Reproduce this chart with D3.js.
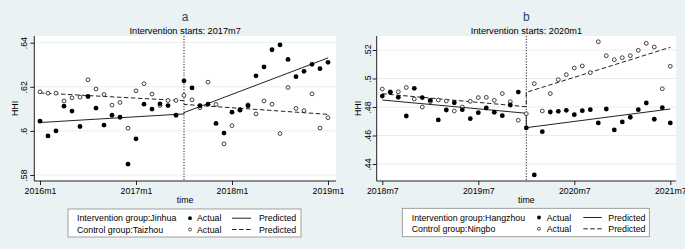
<!DOCTYPE html>
<html>
<head>
<meta charset="utf-8">
<script src="https://cdn.jsdelivr.net/npm/d3@7"></script>
<style>
  html, body { margin: 0; padding: 0; background: #eaf2f3; }
  svg { display: block; }
  text { font-family: "Liberation Sans", Arial, Helvetica, sans-serif; fill: #000; }
</style>
</head>
<body>
<svg id="chart" width="685" height="249"></svg>
<script>
// ---------------- Data ----------------
// Panel a: monthly, 2016m1 .. 2019m1 (index 0..36)
const ticksA = [0, 12, 24, 36];
const tickLabelsA = ["2016m1", "2017m1", "2018m1", "2019m1"];
const yTicksA = [0.58, 0.60, 0.62, 0.64];
const yTickLabelsA = [".58", ".6", ".62", ".64"];
const interventionA = 18; // 2017m7

const jinhuaActual = [0.6044,0.5977,0.6000,0.6112,0.6090,0.6020,0.6156,0.6103,0.6026,0.6071,0.6062,0.5849,0.5964,0.6121,0.6099,0.6123,0.6115,0.6071,0.6227,0.6195,0.6114,0.6121,0.6034,0.5990,0.6085,0.6094,0.6114,0.6250,0.6290,0.6368,0.6390,0.6324,0.6246,0.6270,0.6302,0.6282,0.6311];
const taizhouActual = [0.6177,0.6171,0.6171,0.6136,0.6150,0.6153,0.6232,0.6190,0.6165,0.6117,0.6129,0.6012,0.6182,0.6214,0.6167,0.6115,0.6138,0.6138,0.6161,0.6141,0.6105,0.6221,0.6120,0.5941,0.6024,0.6098,0.6118,0.6077,0.6136,0.6121,0.5988,0.6197,0.6102,0.6092,0.6168,0.6013,0.6060];
const predIdxA = [0, 18, 18, 36];
const jinhuaPred = [0.6038, 0.6077, 0.6083, 0.6331];
const taizhouPred = [0.6172, 0.6137, 0.6120, 0.6075];

// Panel b: monthly, 2018m7 .. 2021m7 (index 0..36)
const ticksB = [0, 12, 24, 36];
const tickLabelsB = ["2018m7", "2019m7", "2020m7", "2021m7"];
const yTicksB = [0.44, 0.46, 0.48, 0.50, 0.52];
const yTickLabelsB = [".44", ".46", ".48", ".5", ".52"];
const interventionB = 18; // 2020m1

const hangzhouActual = [0.4877,0.4903,0.4868,0.4737,0.4931,0.4866,0.4847,0.4709,0.4779,0.4830,0.4781,0.4718,0.4760,0.4793,0.4763,0.4739,0.4814,0.4905,0.4653,0.4323,0.4627,0.4765,0.4770,0.4777,0.4746,0.4774,0.4781,0.4688,0.4786,0.4639,0.4695,0.4728,0.4781,0.4828,0.4714,0.4795,0.4688];
const ningboActual = [0.4926,0.4907,0.4907,0.4937,0.4856,0.4800,0.4837,0.4849,0.4842,0.4772,0.4800,0.4840,0.4866,0.4868,0.4847,0.4894,0.4837,0.4707,0.4753,0.4964,0.4772,0.4894,0.4992,0.5027,0.5074,0.5088,0.5041,0.5258,0.5160,0.5132,0.5146,0.5160,0.5198,0.5247,0.5221,0.4928,0.5086];
const predIdxB = [0, 18, 18, 36];
const hangzhouPred = [0.4849, 0.4756, 0.4655, 0.4786];
const ningboPred = [0.4893, 0.4802, 0.4903, 0.5219];

// ---------------- Drawing ----------------
const svg = d3.select("#chart");
svg.append("rect").attr("width", 685).attr("height", 249).attr("fill", "#eaf2f3");

function panel(cfg) {
  const g = svg.append("g");
  const x = d3.scaleLinear().domain([0, 36]).range(cfg.xr);
  const y = d3.scaleLinear().domain(cfg.yd).range(cfg.yr);
  const [pl, pr] = cfg.plotX, [pt, pb] = cfg.plotY;

  // plot region
  g.append("rect").attr("x", pl).attr("y", pt).attr("width", pr - pl).attr("height", pb - pt).attr("fill", "#fff");

  // gridlines
  g.selectAll(".grid").data(cfg.yTicks).join("line")
    .attr("x1", pl).attr("x2", pr)
    .attr("y1", d => y(d)).attr("y2", d => y(d))
    .attr("stroke", "#e6eff0").attr("stroke-width", 1);

  // axes via d3 axis generators
  const yAxis = d3.axisLeft(y).tickValues(cfg.yTicks).tickFormat((d, i) => cfg.yLabels[i]).tickSize(4).tickSizeOuter(0);
  const ya = g.append("g").attr("transform", `translate(${pl},0)`).call(yAxis);
  ya.select(".domain").remove();
  ya.selectAll(".tick line").attr("stroke", "#222");
  ya.selectAll(".tick text")
    .attr("x", 0).attr("y", 0).attr("dy", null)
    .attr("transform", function(d) { return `translate(${cfg.yLabX - pl},0) rotate(-90)`; })
    .attr("text-anchor", "middle")
    .style("font-size", "8.8px").style("font-family", '"Liberation Sans", Arial, sans-serif').attr("fill", "#000");
  g.append("line").attr("x1", pl).attr("x2", pl).attr("y1", pt).attr("y2", pb).attr("stroke", "#222").attr("stroke-width", 1);

  const xAxis = d3.axisBottom(x).tickValues(cfg.xTicks).tickFormat((d, i) => cfg.xLabels[i]).tickSize(4).tickSizeOuter(0);
  const xa = g.append("g").attr("transform", `translate(0,${pb})`).call(xAxis);
  xa.select(".domain").remove();
  xa.selectAll(".tick line").attr("stroke", "#222");
  xa.selectAll(".tick text").attr("y", 13).attr("dy", null)
    .style("font-size", "8.8px").style("font-family", '"Liberation Sans", Arial, sans-serif').attr("fill", "#000");
  g.append("line").attr("x1", pl).attr("x2", pr).attr("y1", pb).attr("y2", pb).attr("stroke", "#222").attr("stroke-width", 1);

  // axis titles
  g.append("text").attr("transform", `translate(${cfg.hhiX},${(pt + pb) / 2}) rotate(-90)`)
    .attr("text-anchor", "middle").style("font-size", "8.8px").text("HHI");
  g.append("text").attr("x", (pl + pr) / 2).attr("y", 203).attr("text-anchor", "middle")
    .style("font-size", "8.8px").text("time");

  // titles
  g.append("text").attr("x", (pl + pr) / 2).attr("y", 20.5).attr("text-anchor", "middle")
    .style("font-size", "12px").style("fill", "#1a476f").text(cfg.title);
  g.append("text").attr("x", (pl + pr) / 2).attr("y", 33.5).attr("text-anchor", "middle")
    .style("font-size", "9.2px").text(cfg.subtitle);

  // intervention line
  g.append("line").attr("x1", x(cfg.interv)).attr("x2", x(cfg.interv)).attr("y1", pt).attr("y2", pb)
    .attr("stroke", "#222").attr("stroke-width", 1).attr("stroke-dasharray", "1.2,1.6");

  // predicted lines
  const line = d3.line().x(d => x(d[0])).y(d => y(d[1]));
  const predT = cfg.predIdx.map((t, i) => [t, cfg.predT[i]]);
  const predC = cfg.predIdx.map((t, i) => [t, cfg.predC[i]]);
  g.append("path").attr("d", line(predT)).attr("fill", "none").attr("stroke", "#222").attr("stroke-width", 1);
  g.append("path").attr("d", line(predC)).attr("fill", "none").attr("stroke", "#222").attr("stroke-width", 1)
    .attr("stroke-dasharray", "4.5,2.5");

  // actual points
  g.selectAll(".ctl").data(cfg.actC).join("circle")
    .attr("cx", (d, i) => x(i)).attr("cy", d => y(d)).attr("r", 1.9)
    .attr("fill", "#fff").attr("stroke", "#111").attr("stroke-width", 0.8);
  g.selectAll(".trt").data(cfg.actT).join("circle")
    .attr("cx", (d, i) => x(i)).attr("cy", d => y(d)).attr("r", 2.4)
    .attr("fill", "#000");

  // legend
  const L = cfg.legend;
  g.append("rect").attr("x", L.x0).attr("y", L.y0).attr("width", L.x1 - L.x0).attr("height", L.y1 - L.y0)
    .attr("fill", "#fff").attr("stroke", "#8a8a8a").attr("stroke-width", 0.8);
  const rows = [
    { label: cfg.trtLabel, filled: true, dash: null, cy: L.y0 + 9.2 },
    { label: cfg.ctlLabel, filled: false, dash: "4.5,2.5", cy: L.y0 + 20.5 }
  ];
  rows.forEach(r => {
    g.append("text").attr("x", L.tx).attr("y", r.cy + 3.2).style("font-size", "8.8px").text(r.label);
    if (r.filled) {
      g.append("circle").attr("cx", L.dot).attr("cy", r.cy).attr("r", 1.9).attr("fill", "#000");
    } else {
      g.append("circle").attr("cx", L.dot).attr("cy", r.cy).attr("r", 1.5).attr("fill", "#fff").attr("stroke", "#111").attr("stroke-width", 0.7);
    }
    g.append("text").attr("x", L.act).attr("y", r.cy + 3.2).style("font-size", "8.8px").text("Actual");
    const ln = g.append("line").attr("x1", L.l0).attr("x2", L.l1).attr("y1", r.cy).attr("y2", r.cy)
      .attr("stroke", "#222").attr("stroke-width", 1);
    if (r.dash) ln.attr("stroke-dasharray", r.dash);
    g.append("text").attr("x", L.pred).attr("y", r.cy + 3.2).style("font-size", "8.8px").text("Predicted");
  });
}

panel({
  xr: [40, 328], yd: [0.58, 0.64], yr: [175, 42.7],
  plotX: [34.3, 336], plotY: [36, 181],
  yTicks: yTicksA, yLabels: yTickLabelsA, xTicks: ticksA, xLabels: tickLabelsA,
  yLabX: 26.5, hhiX: 17.5,
  title: "a", subtitle: "Intervention starts: 2017m7", interv: interventionA,
  predIdx: predIdxA, predT: jinhuaPred, predC: taizhouPred,
  actT: jinhuaActual, actC: taizhouActual,
  trtLabel: "Intervention group:Jinhua", ctlLabel: "Control group:Taizhou",
  legend: { x0: 68, x1: 301, y0: 209, y1: 237, tx: 77, dot: 190, act: 197, l0: 232, l1: 251, pred: 259 }
});

panel({
  xr: [382.3, 670.3], yd: [0.44, 0.52], yr: [164, 50],
  plotX: [376.7, 676], plotY: [36, 181],
  yTicks: yTicksB, yLabels: yTickLabelsB, xTicks: ticksB, xLabels: tickLabelsB,
  yLabX: 371, hhiX: 361,
  title: "b", subtitle: "Intervention starts: 2020m1", interv: interventionB,
  predIdx: predIdxB, predT: hangzhouPred, predC: ningboPred,
  actT: hangzhouActual, actC: ningboActual,
  trtLabel: "Intervention group:Hangzhou", ctlLabel: "Control group:Ningbo",
  legend: { x0: 402.3, x1: 649.3, y0: 208.3, y1: 236.7, tx: 411.7, dot: 539, act: 546.7, l0: 583.3, l1: 601.7, pred: 608.3 }
});
</script>
</body>
</html>
